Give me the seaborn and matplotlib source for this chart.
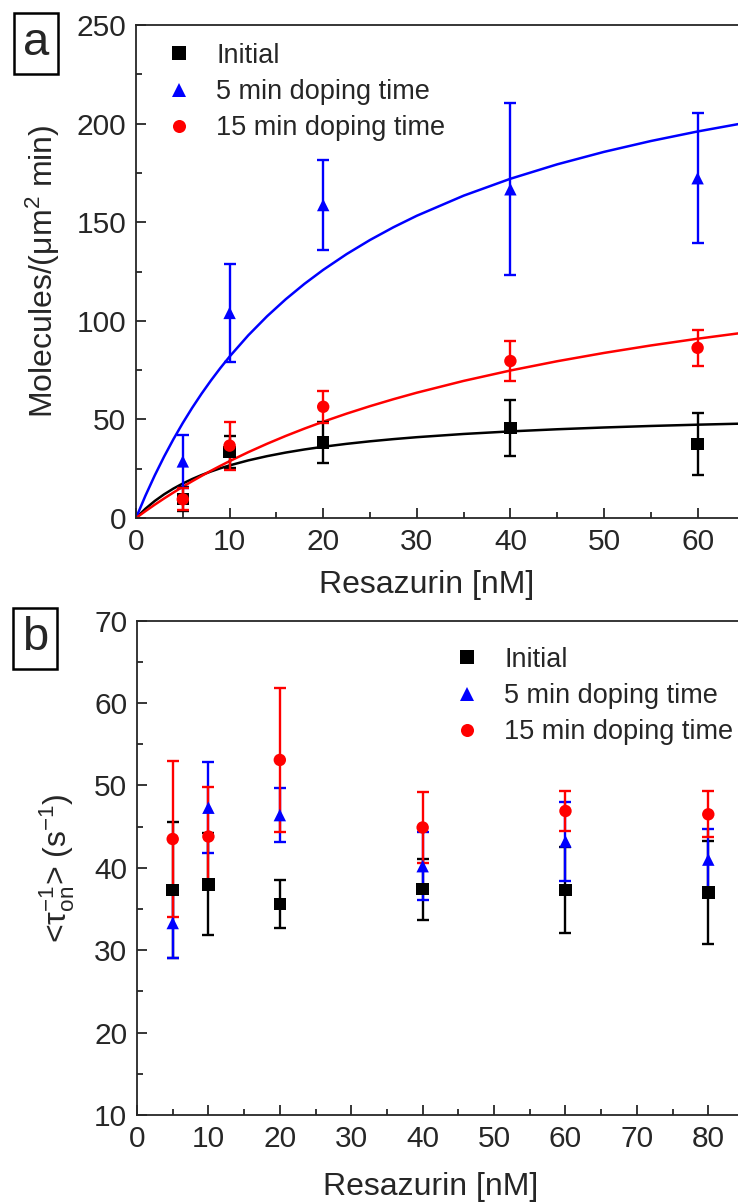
import matplotlib
matplotlib.use("Agg")
import pandas as pd
import matplotlib.pyplot as plt
import seaborn as sns

# --- estilo ---
sns.set_style("ticks")
plt.rcParams["font.family"] = ["Liberation Sans", "DejaVu Sans"]
plt.rcParams["mathtext.fontset"] = "custom"
plt.rcParams["mathtext.rm"] = "Liberation Sans"
plt.rcParams["mathtext.it"] = "Liberation Sans:italic"
plt.rcParams["mathtext.default"] = "regular"

series_names = ["Initial", "5 min doping time", "15 min doping time"]
series_colors = ["#000000", "#0000ff", "#ff0000"]
series_markers = ["s", "^", "o"]

# --- painel a: dados ---
conc_a = [5, 10, 20, 40, 60]
initial_a = [9.5, 33.5, 38.2, 45.6, 37.5]
initial_a_err = [6.0, 8.0, 10.5, 14.4, 15.5]
dope5_a = [28.7, 104.0, 158.7, 166.7, 172.3]
dope5_a_err = [13.5, 25.0, 22.6, 43.7, 33.0]
dope15_a = [9.5, 36.7, 56.4, 79.6, 86.3]
dope15_a_err = [5.5, 12.2, 8.0, 10.0, 9.0]

# curvas de ajuste (valores lidos ao longo de cada linha)
fit_x = [0, 1, 2, 3, 4, 5, 6, 7, 8, 9, 10, 12, 14, 16, 18, 20, 22.5, 25, 27.5,
         30, 35, 40, 45, 50, 55, 60, 65]
fit_initial = [0, 4.67, 8.62, 12.0, 14.93, 17.5, 19.76, 21.78, 23.58, 25.2, 26.67,
               29.22, 31.36, 33.19, 34.76, 36.13, 37.61, 38.89, 40.0,
               40.98, 42.61, 43.92, 45.0, 45.9, 46.67, 47.32, 47.89]
fit_dope5 = [0, 11.23, 21.57, 31.12, 39.97, 48.19, 55.85, 63.0, 69.69, 75.97, 81.87,
             92.66, 102.29, 110.94, 118.75, 125.83, 133.82, 140.98, 147.43,
             153.27, 163.45, 172.03, 179.34, 185.66, 191.16, 196.01, 200.31]
fit_dope15 = [0, 3.44, 6.74, 9.9, 12.93, 15.84, 18.64, 21.33, 23.93, 26.42, 28.83,
              33.39, 37.64, 41.62, 45.34, 48.84, 52.92, 56.71, 60.24,
              63.54, 69.52, 74.8, 79.5, 83.7, 87.49, 90.91, 94.03]

# --- painel b: dados ---
conc_b = [5, 10, 20, 40, 60, 80]
initial_b = [37.3, 38.0, 35.6, 37.4, 37.3, 37.0]
initial_b_err = [8.3, 6.2, 2.9, 3.7, 5.2, 6.2]
dope5_b = [33.3, 47.3, 46.4, 40.2, 43.2, 41.0]
dope5_b_err = [4.3, 5.5, 3.3, 4.1, 4.8, 3.7]
dope15_b = [43.5, 43.8, 53.1, 44.9, 46.9, 46.5]
dope15_b_err = [9.5, 6.0, 8.7, 4.3, 2.4, 2.8]


def long_frame(x, cols, errs):
    rows = []
    for name, ys, es in zip(series_names, cols, errs):
        for xi, yi, ei in zip(x, ys, es):
            rows.append({"conc": xi, "valor": yi, "erro": ei, "serie": name})
    return pd.DataFrame(rows)


def style_axis(ax, xlim, ylim, xmaj, ymaj):
    ax.set_xlim(*xlim)
    ax.set_ylim(*ylim)
    ax.xaxis.set_major_locator(plt.MultipleLocator(xmaj))
    ax.xaxis.set_minor_locator(plt.MultipleLocator(xmaj / 2))
    ax.yaxis.set_major_locator(plt.MultipleLocator(ymaj))
    ax.yaxis.set_minor_locator(plt.MultipleLocator(ymaj / 2))
    ax.tick_params(which="both", direction="in", width=1.3, top=False, right=False)
    ax.tick_params(which="major", length=7, pad=7, labelsize=21.5)
    ax.tick_params(which="minor", length=4)
    for side in ["left", "bottom", "top"]:
        ax.spines[side].set_linewidth(1.3)
    ax.spines["right"].set_visible(False)
    ax.spines["top"].set_visible(True)


def draw_points(ax, df):
    for name, color in zip(series_names, series_colors):
        sub = df[df["serie"] == name]
        ax.errorbar(sub["conc"], sub["valor"], yerr=sub["erro"], fmt="none",
                    ecolor=color, elinewidth=1.7, capsize=4, capthick=1.7, zorder=3)
    sns.scatterplot(data=df, x="conc", y="valor", hue="serie", style="serie",
                    hue_order=series_names, style_order=series_names,
                    palette=dict(zip(series_names, series_colors)),
                    markers=dict(zip(series_names, series_markers)),
                    s=80, edgecolor="none", linewidth=0, ax=ax, zorder=4)


def add_legend(ax, loc_xy):
    handles, labels = ax.get_legend_handles_labels()
    leg = ax.legend(handles, labels, frameon=False, loc="upper left",
                    bbox_to_anchor=loc_xy, bbox_transform=ax.figure.transFigure,
                    prop={"size": 19.5}, handlelength=1.0, handletextpad=0.87,
                    labelspacing=0.38, markerscale=1.05, borderaxespad=0)
    return leg


fig = plt.figure(figsize=(7.38, 12.02), dpi=100)
W, H = 738.0, 1202.0

# painel a
ax_a = fig.add_axes([136 / W, 1 - 518 / H, 608.4 / W, 493 / H])
df_a = long_frame(conc_a, [initial_a, dope5_a, dope15_a],
                  [initial_a_err, dope5_a_err, dope15_a_err])
df_fit = pd.DataFrame({
    "conc": fit_x * 3,
    "valor": fit_initial + fit_dope5 + fit_dope15,
    "serie": [n for n in series_names for _ in fit_x],
})
sns.lineplot(data=df_fit, x="conc", y="valor", hue="serie", hue_order=series_names,
             palette=dict(zip(series_names, series_colors)), linewidth=1.8,
             legend=False, ax=ax_a, zorder=2)
draw_points(ax_a, df_a)
style_axis(ax_a, (0, 65), (0, 250), 10, 50)
ax_a.set_xlabel("Resazurin [nM]", fontsize=23)
ax_a.set_ylabel("Molecules/(\u03bcm$^{2}$ min)", fontsize=23)
ax_a.xaxis.set_label_coords((427 - 136) / 608.4, -0.105)
ax_a.yaxis.set_label_coords(-0.122, 0.5)
add_legend(ax_a, (155 / W, 1 - 32 / H))

# painel b
ax_b = fig.add_axes([137 / W, 1 - 1115 / H, 607 / W, 494.3 / H])
df_b = long_frame(conc_b, [initial_b, dope5_b, dope15_b],
                  [initial_b_err, dope5_b_err, dope15_b_err])
draw_points(ax_b, df_b)
style_axis(ax_b, (0, 85), (10, 70), 10, 10)
ax_b.set_xlabel("Resazurin [nM]", fontsize=23)
ax_b.set_ylabel("<$\\tau_{on}^{-1}$> (s$^{-1}$)", fontsize=23)
ax_b.xaxis.set_label_coords((431 - 137) / 607, -0.115)
ax_b.yaxis.set_label_coords(-0.099, 0.5)
add_legend(ax_b, (443 / W, 1 - 636 / H))

# rótulos dos painéis
for letra, xpix, ypix in [("a", 36, 43), ("b", 35, 638)]:
    fig.text(xpix / W, 1 - ypix / H, letra, fontsize=34, ha="center", va="center",
             bbox=dict(boxstyle="square,pad=0.18", facecolor="white",
                       edgecolor="black", linewidth=1.8))

fig.savefig("out.png", dpi=100)
